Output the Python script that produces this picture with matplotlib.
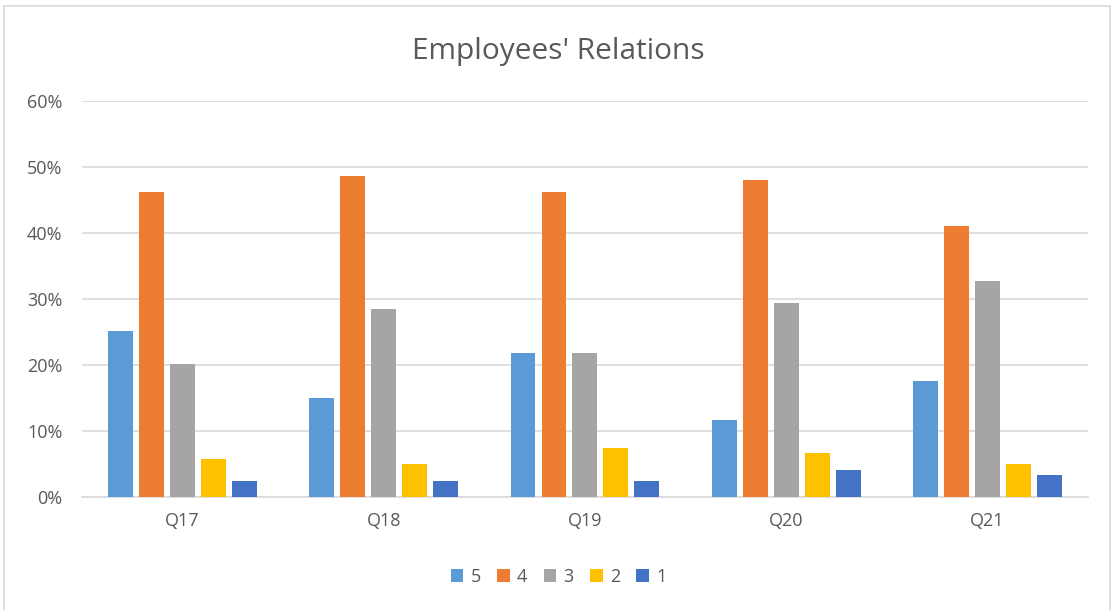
import numpy as np
import matplotlib.pyplot as plt
from matplotlib.patches import Rectangle

# Data
questions = ['Q17', 'Q18', 'Q19', 'Q20', 'Q21']
ratings = ['5', '4', '3', '2', '1']
share_5 = [0.252, 0.150, 0.219, 0.117, 0.176]
share_4 = [0.463, 0.487, 0.463, 0.480, 0.411]
share_3 = [0.202, 0.285, 0.219, 0.294, 0.328]
share_2 = [0.058, 0.050, 0.074, 0.067, 0.050]
share_1 = [0.024, 0.024, 0.024, 0.041, 0.033]
series = [share_5, share_4, share_3, share_2, share_1]
colors = ['#5B9BD5', '#ED7D31', '#A5A5A5', '#FFC000', '#4472C4']

plt.rcParams['font.family'] = ['Open Sans', 'DejaVu Sans']
text_col = '#595959'

fig = plt.figure(figsize=(11.17, 6.10), dpi=100)
ax = fig.add_axes([0.0734, 0.185, 0.9006, 0.649])

x = np.arange(len(questions))
step = 0.154
width = 0.124
for i, (vals, col, lab) in enumerate(zip(series, colors, ratings)):
    ax.bar(x + (i - 2) * step, vals, width=width, color=col, label=lab, zorder=3)

ax.set_xlim(-0.5, len(questions) - 0.5)
ax.set_ylim(0, 0.6)
ax.set_yticks(np.arange(0, 0.61, 0.1))
ax.set_yticklabels([f'{int(round(v * 100))}%' for v in np.arange(0, 0.61, 0.1)])
ax.set_xticks(x)
ax.set_xticklabels(questions)
ax.tick_params(axis='both', length=0, labelsize=13, colors=text_col)
ax.tick_params(axis='x', pad=11)
ax.tick_params(axis='y', pad=14)
ax.grid(axis='y', color='#D9D9D9', linewidth=1.2, zorder=0)
for side in ['top', 'right', 'left']:
    ax.spines[side].set_visible(False)
ax.spines['bottom'].set_color('#D9D9D9')
ax.spines['bottom'].set_linewidth(1.2)

fig.text(0.5, 0.915, "Employees' Relations", ha='center', va='center',
         fontsize=21.5, color=text_col)

fig.legend(loc='center', bbox_to_anchor=(0.5, 0.054), ncol=5, frameon=False,
           fontsize=13, handlelength=0.7, handleheight=0.7, handletextpad=0.4,
           columnspacing=0.9, labelcolor=text_col)

# chart border
fig.patches.append(Rectangle((0.004, -0.01), 0.99, 1.0, transform=fig.transFigure,
                             fill=False, edgecolor='#D9D9D9', linewidth=1.2))

fig.savefig('out.png', dpi=100)
